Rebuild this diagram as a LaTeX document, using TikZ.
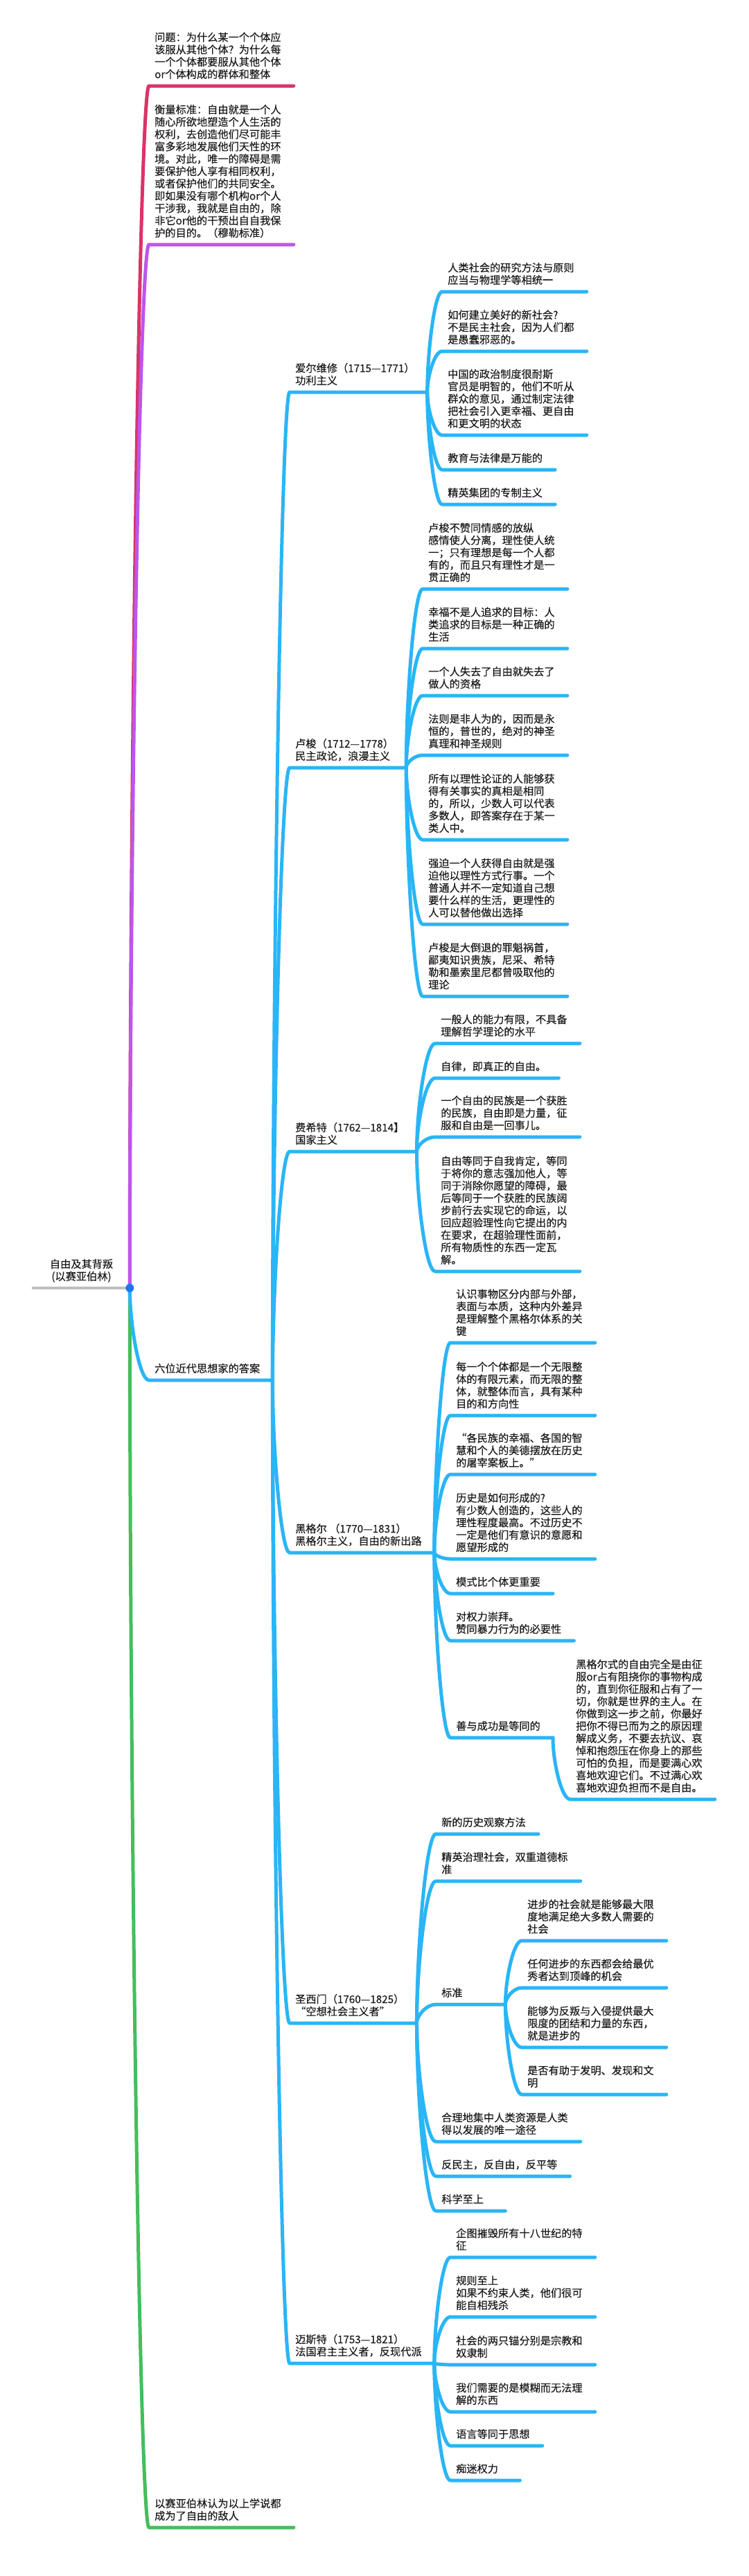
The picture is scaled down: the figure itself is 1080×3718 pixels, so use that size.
\documentclass[tikz,border=0pt]{standalone}
\usepackage{fontspec}
\setmainfont{Noto Sans CJK SC}[FakeBold=0.3]
\usetikzlibrary{calc}
\definecolor{qred}{RGB}{218,52,104}
\definecolor{mpurple}{RGB}{188,86,236}
\definecolor{ablue}{RGB}{42,181,246}
\definecolor{egreen}{RGB}{68,190,92}
\definecolor{rgray}{RGB}{190,190,190}
\definecolor{dotblue}{RGB}{26,121,242}
\definecolor{txt}{RGB}{28,28,28}
\begin{document}
\begin{tikzpicture}[x=1pt,y=-1pt,
  every node/.style={font=\fontsize{15.2pt}{17.8pt}\selectfont,text=txt},
  topic/.style={anchor=south west,align=left,inner xsep=0pt,inner ysep=9pt,text depth=2pt},
  rootbox/.style={anchor=south,align=center,inner xsep=24pt,inner ysep=9pt,text depth=2pt},
  link/.style={line width=5pt,line cap=round,line join=round},
  branch/.style={to path={.. controls ($(\tikztostart)!0.4!(\tikztostart|-\tikztotarget)$) and ($(\tikztostart|-\tikztotarget)!0.5!(\tikztotarget)$) .. (\tikztotarget)}}]
\fill[white] (0,0) rectangle (1080,3718);
\useasboundingbox (0,0) rectangle (1080,3718);

\node[rootbox] (root) at (117.5,1859) {自由及其背叛\\(以赛亚伯林)};
\node[topic] (wenti) at (223,124) {问题：为什么某一个个体应\\该服从其他个体？为什么每\\一个个体都要服从其他个体\\or个体构成的群体和整体};
\node[topic] (hengliang) at (223,353) {衡量标准：自由就是一个人\\随心所欲地塑造个人生活的\\权利，去创造他们尽可能丰\\富多彩地发展他们天性的环\\境。对此，唯一的障碍是需\\要保护他人享有相同权利，\\或者保护他们的共同安全。\\即如果没有哪个机构or个人\\干涉我，我就是自由的，除\\非它or他的干预出自自我保\\护的目的。（穆勒标准）};
\node[topic] (daan) at (223,1992) {六位近代思想家的答案};
\node[topic] (diren) at (223,3648) {以赛亚伯林认为以上学说都\\成为了自由的敌人};

\node[topic] (aew) at (426,566) {爱尔维修（1715—1771）\\功利主义};
\node[topic] (ls) at (426,1108) {卢梭（1712—1778）\\民主政论，浪漫主义};
\node[topic] (fxt) at (426,1662) {费希特（1762—1814】\\国家主义};
\node[topic] (hge) at (426,2241) {黑格尔 （1770—1831）\\黑格尔主义，自由的新出路};
\node[topic] (sxm) at (426,2920) {圣西门（1760—1825）\\“空想社会主义者”};
\node[topic] (mst) at (426,3411) {迈斯特（1753—1821）\\法国君主主义者，反现代派};

\node[topic] (aew1) at (646,421) {人类社会的研究方法与原则\\应当与物理学等相统一};
\node[topic] (aew2) at (646,507) {如何建立美好的新社会?\\不是民主社会，因为人们都\\是愚蠢邪恶的。};
\node[topic] (aew3) at (646,628) {中国的政治制度很耐斯\\官员是明智的，他们不听从\\群众的意见，通过制定法律\\把社会引入更幸福、更自由\\和更文明的状态};
\node[topic] (aew4) at (646,678) {教育与法律是万能的};
\node[topic] (aew5) at (646,728) {精英集团的专制主义};

\node[topic] (ls1) at (618,850) {卢梭不赞同情感的放纵\\感情使人分离，理性使人统\\一；只有理想是每一个人都\\有的，而且只有理性才是一\\贯正确的};
\node[topic] (ls2) at (618,936) {幸福不是人追求的目标：人\\类追求的目标是一种正确的\\生活};
\node[topic] (ls3) at (618,1004) {一个人失去了自由就失去了\\做人的资格};
\node[topic] (ls4) at (618,1090) {法则是非人为的，因而是永\\恒的，普世的，绝对的神圣\\真理和神圣规则};
\node[topic] (ls5) at (618,1212) {所有以理性论证的人能够获\\得有关事实的真相是相同\\的，所以，少数人可以代表\\多数人，即答案存在于某一\\类人中。};
\node[topic] (ls6) at (618,1334) {强迫一个人获得自由就是强\\迫他以理性方式行事。一个\\普通人并不一定知道自己想\\要什么样的生活，更理性的\\人可以替他做出选择};
\node[topic] (ls7) at (618,1438) {卢梭是大倒退的罪魁祸首，\\鄙夷知识贵族，尼采、希特\\勒和墨索里尼都曾吸取他的\\理论};

\node[topic] (fxt1) at (636,1506) {一般人的能力有限，不具备\\理解哲学理论的水平};
\node[topic] (fxt2) at (636,1556) {自律，即真正的自由。};
\node[topic] (fxt3) at (636,1641) {一个自由的民族是一个获胜\\的民族，自由即是力量，征\\服和自由是一回事儿。};
\node[topic] (fxt4) at (636,1835) {自由等同于自我肯定，等同\\于将你的意志强加他人，等\\同于消除你愿望的障碍，最\\后等同于一个获胜的民族阔\\步前行去实现它的命运，以\\回应超验理性向它提出的内\\在要求，在超验理性面前，\\所有物质性的东西一定瓦\\解。};

\node[topic] (hge1) at (658,1938) {认识事物区分内部与外部，\\表面与本质，这种内外差异\\是理解整个黑格尔体系的关\\键};
\node[topic] (hge2) at (658,2043) {每一个个体都是一个无限整\\体的有限元素，而无限的整\\体，就整体而言，具有某种\\目的和方向性};
\node[topic] (hge3) at (658,2128) {“各民族的幸福、各国的智\\慧和个人的美德摆放在历史\\的屠宰案板上。”};
\node[topic] (hge4) at (658,2250) {历史是如何形成的?\\有少数人创造的，这些人的\\理性程度最高。不过历史不\\一定是他们有意识的意愿和\\愿望形成的};
\node[topic] (hge5) at (658,2300) {模式比个体更重要};
\node[topic] (hge6) at (658,2368) {对权力崇拜。\\赞同暴力行为的必要性};
\node[topic] (hge7) at (658,2508) {善与成功是等同的};
\node[topic] (hge7a) at (831,2597) {黑格尔式的自由完全是由征\\服or占有阻挠你的事物构成\\的，直到你征服和占有了一\\切，你就是世界的主人。在\\你做到这一步之前，你最好\\把你不得已而为之的原因理\\解成义务，不要去抗议、哀\\悼和抱怨压在你身上的那些\\可怕的负担，而是要满心欢\\喜地欢迎它们。不过满心欢\\喜地欢迎负担而不是自由。};

\node[topic] (sxm1) at (637,2647) {新的历史观察方法};
\node[topic] (sxm2) at (637,2715) {精英治理社会，双重道德标\\准};
\node[topic] (sxm3) at (637,2893) {\makebox[74pt][l]{标准}};
\node[topic] (sxm3a) at (761,2801) {进步的社会就是能够最大限\\度地满足绝大多数人需要的\\社会};
\node[topic] (sxm3b) at (761,2869) {任何进步的东西都会给最优\\秀者达到顶峰的机会};
\node[topic] (sxm3c) at (761,2955) {能够为反叛与入侵提供最大\\限度的团结和力量的东西，\\就是进步的};
\node[topic] (sxm3d) at (761,3023) {是否有助于发明、发现和文\\明};
\node[topic] (sxm4) at (637,3091) {合理地集中人类资源是人类\\得以发展的唯一途径};
\node[topic] (sxm5) at (637,3141) {反民主，反自由，反平等};
\node[topic] (sxm6) at (637,3191) {\makebox[74pt][l]{科学至上}};

\node[topic] (mst1) at (658,3258) {企图摧毁所有十八世纪的特\\征};
\node[topic] (mst2) at (658,3344) {规则至上\\如果不约束人类，他们很可\\能自相残杀};
\node[topic] (mst3) at (658,3413) {社会的两只锚分别是宗教和\\奴隶制};
\node[topic] (mst4) at (658,3481) {我们需要的是模糊而无法理\\解的东西};
\node[topic] (mst5) at (658,3530) {语言等同于思想};
\node[topic] (mst6) at (658,3580) {\makebox[74pt][l]{痴迷权力}};

\coordinate (root-r) at (root.south east);
\foreach \n in {wenti,hengliang,daan,diren,aew,ls,fxt,hge,sxm,mst,%
aew1,aew2,aew3,aew4,aew5,ls1,ls2,ls3,ls4,ls5,ls6,ls7,fxt1,fxt2,fxt3,fxt4,%
hge1,hge2,hge3,hge4,hge5,hge6,hge7,hge7a,sxm1,sxm2,sxm3,sxm3a,sxm3b,sxm3c,sxm3d,%
sxm4,sxm5,sxm6,mst1,mst2,mst3,mst4,mst5,mst6}{
  \coordinate (\n-l) at ([xshift=-8pt]\n.south west);
  \coordinate (\n-r) at ([xshift=18pt]\n.south east);
}

\draw[link,rgray,line width=4pt] (root.south west) -- (root-r);
\draw[link,egreen] (root-r) to[branch] (diren-l) -- (diren-r);
\draw[link,ablue] (root-r) to[branch] (daan-l) -- (daan-r);
\draw[link,qred] (root-r) to[branch] (wenti-l) -- (wenti-r);
\draw[link,mpurple] (root-r) to[branch] (hengliang-l) -- (hengliang-r);

\foreach \p/\c in {daan/aew,daan/ls,daan/fxt,daan/hge,daan/sxm,daan/mst,%
aew/aew1,aew/aew2,aew/aew3,aew/aew4,aew/aew5,%
ls/ls1,ls/ls2,ls/ls3,ls/ls4,ls/ls5,ls/ls6,ls/ls7,%
fxt/fxt1,fxt/fxt2,fxt/fxt3,fxt/fxt4,%
hge/hge1,hge/hge2,hge/hge3,hge/hge4,hge/hge5,hge/hge6,hge/hge7,hge7/hge7a,%
sxm/sxm1,sxm/sxm2,sxm/sxm3,sxm3/sxm3a,sxm3/sxm3b,sxm3/sxm3c,sxm3/sxm3d,sxm/sxm4,sxm/sxm5,sxm/sxm6,%
mst/mst1,mst/mst2,mst/mst3,mst/mst4,mst/mst5,mst/mst6}
  \draw[link,ablue] (\p-r) to[branch] (\c-l) -- (\c-r);

\fill[dotblue] (root-r) circle (6pt);
\end{tikzpicture}
\end{document}
